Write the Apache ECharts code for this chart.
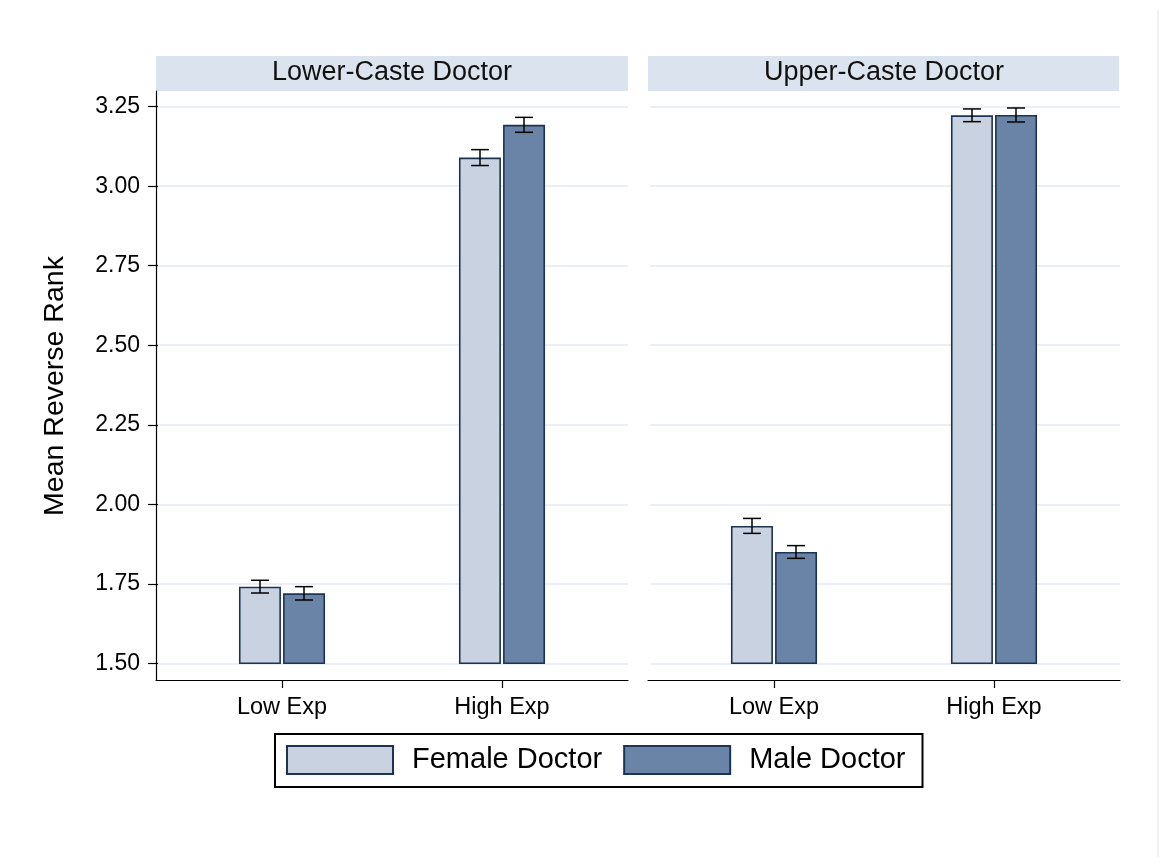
<!DOCTYPE html>
<html>
<head>
<meta charset="utf-8">
<script src="https://cdn.jsdelivr.net/npm/echarts@6/dist/echarts.min.js"></script>
<style>html,body{margin:0;padding:0;background:#fff;}#c{width:1170px;height:867px;}</style>
</head>
<body>
<div id="c"></div>
<script>
const categories = ['Low Exp', 'High Exp'];
const panelTitles = ['Lower-Caste Doctor', 'Upper-Caste Doctor'];
const seriesNames = ['Female Doctor', 'Male Doctor'];
// means per panel [Low Exp, High Exp]
const femaleLowerCaste = [1.741, 3.090];
const maleLowerCaste = [1.720, 3.193];
const femaleUpperCaste = [1.932, 3.223];
const maleUpperCaste = [1.850, 3.224];
// half-width of confidence intervals
const femaleLowerCasteErr = [0.020, 0.025];
const maleLowerCasteErr = [0.021, 0.0235];
const femaleUpperCasteErr = [0.0235, 0.020];
const maleUpperCasteErr = [0.020, 0.022];
const yMin = 1.5, yMax = 3.25, yInterval = 0.25;
const yAxisTitle = 'Mean Reverse Rank';

const panelMeans = [[femaleLowerCaste, maleLowerCaste], [femaleUpperCaste, maleUpperCaste]];
const panelErrs = [[femaleLowerCasteErr, maleLowerCasteErr], [femaleUpperCasteErr, maleUpperCasteErr]];

const colors = ['#c9d2e0', '#6984a7'];
const borderCol = '#1c3352';
const FONT = 'Liberation Sans, Arial, sans-serif';

const panelLeft = [156, 648];
const panelWidth = 472;
const frameTop = 91, frameBottom = 680;
const plotTop = 106.7, plotBottom = 663.3;
const barWidth = 42;
const barOffset = 22;

const grids = [], xAxes = [], yAxes = [], series = [], graphics = [];

for (let p = 0; p < 2; p++) {
  const L = panelLeft[p];
  // frame grid (axis lines)
  grids.push({left: L, top: frameTop, width: panelWidth, height: frameBottom - frameTop});
  xAxes.push({gridIndex: 3*p, type: 'value', min: 0, max: 1, axisLine: {show: true, onZero: false, lineStyle: {color: '#000', width: 1.2}}, axisTick: {show: false}, axisLabel: {show: false}, splitLine: {show: false}});
  yAxes.push({gridIndex: 3*p, type: 'value', min: 0, max: 1, axisLine: {show: p === 0, lineStyle: {color: '#000', width: 1.2}}, axisTick: {show: false}, axisLabel: {show: false}, splitLine: {show: false}});
  // split-line grid (full width)
  grids.push({left: L + 2, top: plotTop, width: panelWidth - 2, height: plotBottom - plotTop});
  xAxes.push({gridIndex: 3*p+1, type: 'value', min: 0, max: 1, show: false});
  yAxes.push({gridIndex: 3*p+1, type: 'value', min: yMin, max: yMax, interval: yInterval,
    axisLine: {show: false},
    axisTick: {show: p === 0, length: 10, lineStyle: {color: '#000', width: 1.2}},
    axisLabel: {show: p === 0, margin: 18, fontSize: 23, color: '#000', fontFamily: FONT, formatter: v => v.toFixed(2)},
    splitLine: {show: true, lineStyle: {color: '#eaeef5', width: 2}}});
  // bars grid
  grids.push({left: L + 16, top: plotTop, width: 440, height: plotBottom - plotTop});
  xAxes.push({gridIndex: 3*p+2, type: 'category', data: categories, offset: frameBottom - plotBottom,
    axisLine: {show: false},
    axisTick: {show: true, alignWithLabel: true, length: 8, lineStyle: {color: '#000', width: 1.2}},
    axisLabel: {margin: 16, fontSize: 23.5, color: '#000', fontFamily: FONT}});
  yAxes.push({gridIndex: 3*p+2, type: 'value', min: yMin, max: yMax, show: false});

  for (let s = 0; s < 2; s++) {
    series.push({
      name: seriesNames[s], type: 'bar', xAxisIndex: 3*p+2, yAxisIndex: 3*p+2,
      data: panelMeans[p][s], barWidth: barWidth, barGap: '5%',
      itemStyle: {color: colors[s], borderColor: borderCol, borderWidth: 1.6},
      emphasis: {disabled: true}, silent: true, z: 2
    });
  }
  for (let s = 0; s < 2; s++) {
    const off = s === 0 ? -barOffset : barOffset;
    const data = panelMeans[p][s].map((m, i) => [i, m - panelErrs[p][s][i], m + panelErrs[p][s][i]]);
    series.push({
      type: 'custom', xAxisIndex: 3*p+2, yAxisIndex: 3*p+2, z: 5, silent: true,
      data: data,
      renderItem: function (params, api) {
        const a = api.coord([api.value(0), api.value(1)]);
        const b = api.coord([api.value(0), api.value(2)]);
        const x = a[0] + off;
        const st = {stroke: '#000', lineWidth: 1.5};
        return {type: 'group', children: [
          {type: 'line', shape: {x1: x, y1: a[1], x2: x, y2: b[1]}, style: st},
          {type: 'line', shape: {x1: x - 9, y1: a[1], x2: x + 9, y2: a[1]}, style: st},
          {type: 'line', shape: {x1: x - 9, y1: b[1], x2: x + 9, y2: b[1]}, style: st}
        ]};
      }
    });
  }
  // strip header
  graphics.push({type: 'rect', left: L, top: 56, shape: {width: p === 0 ? 472 : 471, height: 35}, style: {fill: '#dbe4ee'}, z: 0});
  graphics.push({type: 'text', x: L + panelWidth / 2, y: 73, style: {text: panelTitles[p], fill: '#111', font: '27px ' + FONT, align: 'center', verticalAlign: 'middle'}, z: 1});
}
graphics.push({type: 'text', x: 55, y: 386, rotation: Math.PI / 2, style: {text: yAxisTitle, fill: '#000', font: '28.5px ' + FONT, align: 'center', verticalAlign: 'middle'}});
graphics.push({type: 'line', shape: {x1: 1158, y1: 10, x2: 1158, y2: 857}, style: {stroke: '#f2f2f2', lineWidth: 2}});

const chart = echarts.init(document.getElementById('c'), null, {renderer: 'canvas'});
chart.setOption({
  animation: false,
  backgroundColor: '#ffffff',
  grid: grids, xAxis: xAxes, yAxis: yAxes, series: series,
  graphic: graphics,
  legend: {
    data: seriesNames.map(n => ({name: n, icon: 'rect'})), left: 275, top: 734, orient: 'horizontal',
    padding: [11, 17, 12, 11], itemWidth: 106, itemHeight: 28, itemGap: 21,
    borderColor: '#000', borderWidth: 2, backgroundColor: '#fff',
    selectedMode: false,
    itemStyle: {borderColor: borderCol, borderWidth: 2},
    textStyle: {fontSize: 29, color: '#000', fontFamily: FONT, padding: [4, 0, 0, 14]}
  }
});
</script>
</body>
</html>
